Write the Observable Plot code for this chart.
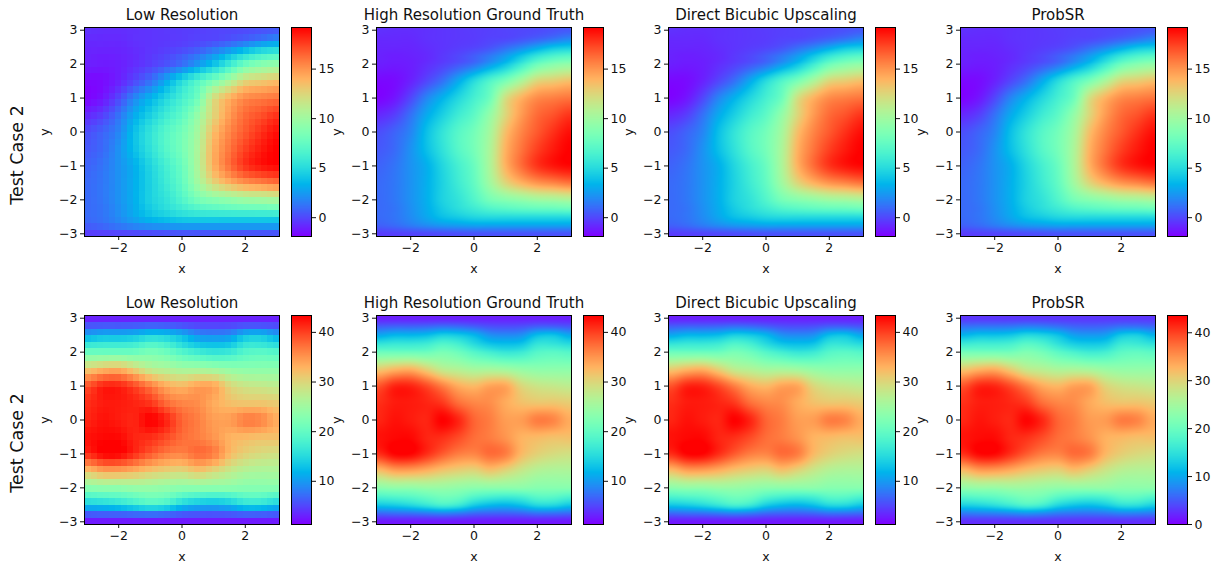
<!DOCTYPE html>
<html>
<head>
<meta charset="utf-8">
<script src="https://cdn.jsdelivr.net/npm/d3@7"></script>
<script src="https://cdn.jsdelivr.net/npm/@observablehq/plot@0.6"></script>
<style>
  html,body{margin:0;padding:0;background:#fff;overflow:hidden}
  #chart{position:relative;width:1223px;height:565px;overflow:hidden;font-family:"DejaVu Sans",sans-serif;color:#111}
  .rowlabel{position:absolute;left:17px;font-size:17.5px;white-space:nowrap;transform:translate(-50%,-50%) rotate(-90deg)}
</style>
</head>
<body>
<div id="chart"></div>
<script>
const panelTitles = ["Low Resolution", "High Resolution Ground Truth", "Direct Bicubic Upscaling", "ProbSR"];
const rowLabel = "Test Case 2";
const gridX = [-3,-2.5,-2,-1.5,-1,-0.5,0,0.5,1,1.5,2,2.5,3];
const gridY = [3,2.75,2.5,2.25,2,1.5,1,0.5,0,-0.5,-1,-1.5,-2,-2.25,-2.5,-2.75,-3];

const fieldTop = [
  [-0.6,-0.7,-0.7,-0.6,-0.5,-0.4,-0.3,-0.2,-0.1,0,0.1,0.3,0.5],
  [-0.8,-0.8,-0.8,-0.6,-0.5,-0.4,-0.3,-0.1,0,0.3,0.7,1.2,1.8],
  [-0.9,-0.9,-0.9,-0.7,-0.5,-0.3,-0.1,0.3,1,1.8,2.8,3.8,4.2],
  [-1,-1.1,-1,-0.8,-0.4,0,0.6,1.4,2.5,4,5.5,6.5,7],
  [-1.1,-1.2,-1.1,-0.7,-0.2,0.4,1.2,2.5,4,6,8,9,9.5],
  [-1.7,-1.6,-1,0,1.2,3,5,6.8,8.5,10.5,12.5,13,13.5],
  [-1.8,-1.3,0,1.8,3.3,4.8,6.3,8,12,14,15.3,15.7,16],
  [-0.8,-0.2,1.2,3,4.5,6,7.3,9.5,12.5,14.8,16.3,17,17.8],
  [0.2,0.8,1.8,3.8,5.5,7,8.2,10.2,13.5,15.5,16.8,17.9,18.8],
  [0.5,1,2.2,3.8,5.4,7,8.3,10.5,14,16,17.5,18.5,19.2],
  [0.8,1.3,2.2,3.2,4.8,6.3,7.8,10.5,14,16.2,17.8,18.6,19],
  [1,1.4,2.2,3.2,4.6,6,7.5,10,12.5,14,15,15.5,16],
  [1,1.4,2.2,3.2,4.6,5.5,6.8,8.3,9,9.5,10,10.2,10.5],
  [1,1.3,2.1,3.1,4.3,5.2,6,6.8,7.2,7.5,7.7,7.8,8],
  [1,1.3,2,2.9,3.8,4.3,4.8,5,5,5,5,5,5],
  [0.7,1,1.5,2,2.4,2.6,2.8,2.8,2.8,2.8,2.8,2.8,2.8],
  [-0.3,-0.2,-0.1,0,0.1,0.2,0.3,0.3,0.3,0.3,0.3,0.3,0.3]
];
const fieldBottom = [
  [3,3,3,3,3,3,3,3,3,3,3,3,3],
  [6.5,6.8,6.8,7,7.5,7.2,6.5,5.7,5.5,5.7,6.5,6.5,6],
  [11,12,12,12.5,14,13.5,12,9.5,9,9.5,12.5,13,11],
  [16,16.5,16.5,17,18.5,17.5,15,13,12.5,13,16,16,15],
  [21,21,21,21,22,21,19,17.5,16.5,17,19,19.5,19],
  [31,32.5,33,30.5,27.5,26.5,25.5,25.5,25,24,23.5,23.5,23.5],
  [39,41.5,41.5,39.5,36.5,33.5,32.5,34,33.8,30,28.5,28,27.5],
  [41,42,42,41.5,40.5,37.5,36,35.5,33.5,32,31.5,31.5,31],
  [41.5,42.5,42,41.5,43.4,41.5,38,36.5,34.5,34.5,36.5,36,33.5],
  [42.5,43,43,41.5,41,39.5,37.5,36.5,35,33,32.5,32,32],
  [41,43.2,43.2,41,38.5,36.5,36,37.5,36.5,32.5,30.5,29.5,29],
  [32,34,34,33,31.5,30.5,30,31.5,30,28,26.5,26,26],
  [23.5,24,24,24.5,24.5,24,23.5,23.5,23.5,23.5,23,23,23],
  [18.5,19,19.5,20.5,21.5,21,19,18,17.5,18,19.5,19.5,18.5],
  [13.5,14,15,16.5,18,17,14,12.5,12,13,15,15,13.5],
  [7,7.3,7.5,8,8.5,8,7,6.6,6.5,6.8,7.5,7.4,7],
  [2.5,2.5,2.5,2.5,2.5,2.5,2.5,2.5,2.5,2.5,2.5,2.5,2.5]
];

const rowFields = [fieldTop, fieldBottom];
const colorDomains = [
  [[-1.9,19.2],[-1.9,19.2],[-1.9,19.2],[-1.9,19.2]],
  [[1.3,43.4],[1.3,43.4],[1.3,43.4],[0,43.6]]
];
const colorTicks = [[0,5,10,15],[10,20,30,40],[0,10,20,30,40]];
const axisTicksX = [-2,0,2];
const axisTicksY = [-3,-2,-1,0,1,2,3];
const lowResCells = 32;

const extent = 3.08;
const panelLefts = [84,376,668,960];
const rowTops = [27,315];
const panelW = 195, panelH = 209, barGap = 12, barW = 20;
const font = '"DejaVu Sans", sans-serif';
const fmt = d => String(d).replace("-", "\u2212");

// matplotlib "rainbow" colormap
function rainbow(t){
  const r = Math.min(1,Math.abs(2*t-0.5)), g = Math.sin(Math.PI*t), b = Math.cos(Math.PI*t/2);
  return `rgb(${Math.round(255*r)},${Math.round(255*g)},${Math.round(255*b)})`;
}

function fracIndex(arr, v){
  const asc = arr[0] < arr[arr.length-1];
  for (let i=0;i<arr.length-1;i++){
    const a=arr[i], b=arr[i+1];
    if (asc ? v<=b : v>=b) return i + Math.max(0,(v-a)/(b-a));
  }
  return arr.length-1;
}
function cr(p0,p1,p2,p3,t){
  return 0.5*(2*p1+(p2-p0)*t+(2*p0-5*p1+4*p2-p3)*t*t+(3*p1-p0-3*p2+p3)*t*t*t);
}
function sampler(field){
  const nx=gridX.length, ny=gridY.length, at=(j,i)=>field[Math.max(0,Math.min(ny-1,j))][Math.max(0,Math.min(nx-1,i))];
  return (x,y)=>{
    const fx=fracIndex(gridX,x), fy=fracIndex(gridY,y);
    const i=Math.min(nx-2,Math.floor(fx)), j=Math.min(ny-2,Math.floor(fy)), tx=fx-i, ty=fy-j;
    const v=[-1,0,1,2].map(d=>cr(at(j+d,i-1),at(j+d,i),at(j+d,i+1),at(j+d,i+2),tx));
    return cr(v[0],v[1],v[2],v[3],ty);
  };
}

const chart = document.getElementById("chart");
const baseStyle = (l,t)=>({position:"absolute",left:l+"px",top:t+"px",background:"transparent",overflow:"visible",fontFamily:font,fontSize:"12.5px",color:"#111",maxWidth:"none"});

rowFields.forEach((field,row)=>{
  const fn = sampler(field), top = rowTops[row];
  panelTitles.forEach((title,col)=>{
    const dom = colorDomains[row][col], left = panelLefts[col];
    const ml=50, mt=25, mb=45, mr=2;
    const lowRes = col===0;
    chart.append(Plot.plot({
      width:panelW+ml+mr, height:panelH+mt+mb,
      marginLeft:ml, marginRight:mr, marginTop:mt, marginBottom:mb,
      style:baseStyle(left-ml,top-mt),
      x:{domain:[-extent,extent],ticks:axisTicksX,tickFormat:fmt,tickSize:4,tickPadding:3,label:"x",labelAnchor:"center",labelArrow:"none",labelOffset:36},
      y:{domain:[-extent,extent],ticks:axisTicksY,tickFormat:fmt,tickSize:4,tickPadding:3,label:"y",labelAnchor:"center",labelArrow:"none",labelOffset:44},
      color:{type:"linear",domain:dom,interpolate:rainbow,clamp:true},
      marks:[
        Plot.raster({x1:-extent,x2:extent,y1:-extent,y2:extent,fill:fn,
          width:lowRes?lowResCells:panelW,height:lowRes?lowResCells:panelH,
          imageRendering:lowRes?"pixelated":"auto"}),
        Plot.frame({stroke:"black",strokeWidth:1}),
        Plot.text([title],{frameAnchor:"top",lineAnchor:"bottom",dy:-8,fontSize:15,fill:"#111"})
      ]
    }));
    const cml=1, cmr=32, barLeft=left+panelW+barGap;
    const ticks = (row===1&&col===3)?colorTicks[2]:colorTicks[row];
    chart.append(Plot.plot({
      width:barW+cml+cmr, height:panelH+mt+mb,
      marginLeft:cml, marginRight:cmr, marginTop:mt, marginBottom:mb,
      style:baseStyle(barLeft-cml,top-mt),
      x:{domain:[0,1],axis:null},
      y:{domain:dom,axis:"right",ticks:ticks,tickFormat:fmt,tickSize:4,tickPadding:3,label:null},
      color:{type:"linear",domain:dom,interpolate:rainbow,clamp:true},
      marks:[
        Plot.raster({x1:0,x2:1,y1:dom[0],y2:dom[1],fill:(x,y)=>y,width:1,height:256}),
        Plot.frame({stroke:"black",strokeWidth:1})
      ]
    }));
  });
  const lab=document.createElement("div");
  lab.className="rowlabel"; lab.textContent=rowLabel;
  lab.style.top=(top+panelH/2+23)+"px";
  chart.append(lab);
});
</script>
</body>
</html>
